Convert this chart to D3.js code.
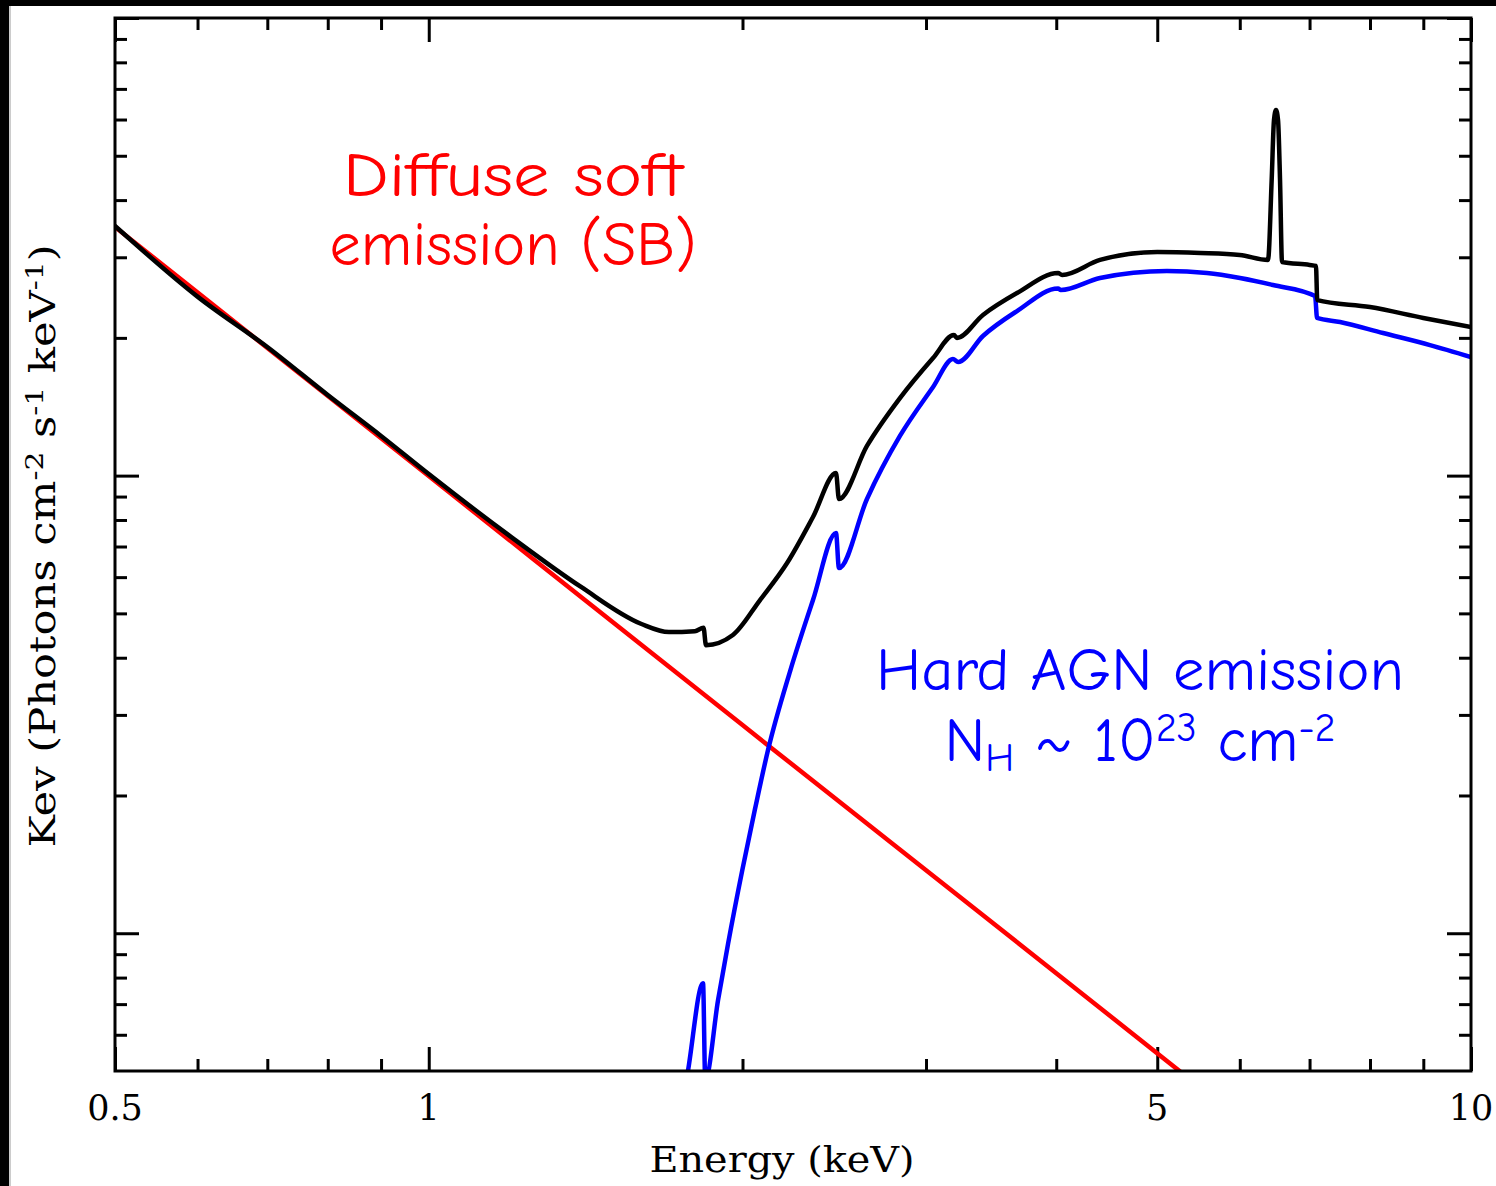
<!DOCTYPE html>
<html>
<head>
<meta charset="utf-8">
<script src="https://cdn.jsdelivr.net/npm/d3@7"></script>
<style>
html,body{margin:0;padding:0;background:#fff;}
svg{display:block;}
</style>
</head>
<body>
<svg id="chart" width="1496" height="1186"></svg>
<script>
// ---- data (energy in keV, E*F(E) in arbitrary units) ----
const softE   = [0.5, 1.0, 2.0, 4.0, 6.0];
const softV   = [0.3495, 0.0998, 0.0285, 0.00818, 0.00393];

const agnE = [1.742, 1.773, 1.833, 1.842, 1.895, 1.937, 2.0, 2.056, 2.116, 2.222, 2.337, 2.459, 2.475,
              2.633, 2.832, 3.047, 3.184, 3.220, 3.402, 3.668, 4.016, 4.04, 4.406, 5.108, 5.581,
              6.003, 6.457, 7.086, 7.117, 7.488, 8.234, 9.133, 10.0];
const agnV = [0.00395, 0.0050, 0.00778, 0.00478, 0.00715, 0.00947, 0.01381, 0.01868, 0.02514, 0.03741, 0.05347, 0.07492, 0.0628,
              0.0889, 0.1221, 0.1562, 0.1798, 0.1771, 0.2019, 0.2289, 0.2564, 0.2544, 0.2702, 0.2799, 0.2771,
              0.2702, 0.2609, 0.2468, 0.2211, 0.2167, 0.2049, 0.1929, 0.1816];

const totE = [0.5, 0.6, 0.7, 0.8, 0.9, 1.0, 1.2, 1.4, 1.6, 1.7, 1.8, 1.835, 1.845, 1.958, 2.079, 2.207, 2.337, 2.459, 2.475,
              2.633, 2.832, 3.047, 3.191, 3.212, 3.402, 3.668, 4.016, 4.052, 4.406, 5.0, 5.5, 6.0,
              6.386, 6.438, 6.471, 6.50, 6.529, 6.558, 6.587, 7.0, 7.10, 7.12, 8.0, 9.0, 10.0];
const totV = [0.3512, 0.2461, 0.1910, 0.1500, 0.1221, 0.1008, 0.0734, 0.0571, 0.0474, 0.0455, 0.0457, 0.0465, 0.0426, 0.04484, 0.05347, 0.06442, 0.0812, 0.1013, 0.0889,
              0.1161, 0.1477, 0.1807, 0.2029, 0.1999, 0.2244, 0.2506, 0.2771, 0.2744, 0.2960, 0.3081, 0.3066, 0.3035,
              0.2960, 0.4426, 0.5986, 0.6295, 0.5986, 0.4426, 0.2930, 0.2886, 0.2871, 0.2418, 0.2335, 0.2211, 0.2112];

const xMajor = [0.5, 1, 5, 10];
const xMajorLabels = ["0.5", "1", "5", "10"];
const xMinor = [0.6, 0.7, 0.8, 0.9, 2, 3, 4, 6, 7, 8, 9];
const yMajor = [0.01, 0.1, 1];
const yMinor = [0.006, 0.007, 0.008, 0.009, 0.02, 0.03, 0.04, 0.05, 0.06, 0.07, 0.08, 0.09,
                0.2, 0.3, 0.4, 0.5, 0.6, 0.7, 0.8, 0.9];

// ---- layout ----
const L = 115, R = 1471, T = 18, B = 1071;
const svg = d3.select("#chart");

const x = d3.scaleLog().domain([0.5, 10]).range([L, R]);
const y = d3.scaleLog().domain([0.005, 1]).range([B, T]);

// outer frame (black bars top and left)
svg.append("rect").attr("x", 0).attr("y", 0).attr("width", 1496).attr("height", 6).attr("fill", "#000");
svg.append("rect").attr("x", 0).attr("y", 0).attr("width", 9).attr("height", 1186).attr("fill", "#000");
svg.append("line").attr("x1", 10).attr("x2", 10).attr("y1", 6).attr("y2", 1186).attr("stroke", "#999").attr("stroke-width", 1);

svg.append("clipPath").attr("id", "plotclip")
  .append("rect").attr("x", L).attr("y", T).attr("width", R - L).attr("height", B - T);

// ticks
function tickAxis(axis, tx, ty, vals, size) {
  const g = svg.append("g").attr("transform", `translate(${tx},${ty})`)
    .call(axis.tickValues(vals).tickSizeInner(-size).tickSizeOuter(0).tickFormat(""));
  g.select(".domain").remove();
  g.selectAll("line").attr("stroke", "#000").attr("stroke-width", 3);
}
tickAxis(d3.axisBottom(x), 0, B, xMinor, 12);
tickAxis(d3.axisBottom(x), 0, B, xMajor, 24);
tickAxis(d3.axisTop(x), 0, T, xMinor, 12);
tickAxis(d3.axisTop(x), 0, T, xMajor, 24);
tickAxis(d3.axisLeft(y), L, 0, yMinor, 12);
tickAxis(d3.axisLeft(y), L, 0, yMajor, 24);
tickAxis(d3.axisRight(y), R, 0, yMinor, 12);
tickAxis(d3.axisRight(y), R, 0, yMajor, 24);

// curves
const plot = svg.append("g").attr("clip-path", "url(#plotclip)");
function curve(E, V, color) {
  const pts = E.map((e, i) => [e, V[i]]);
  plot.append("path")
    .attr("d", d3.line().x(d => x(d[0])).y(d => y(d[1])).curve(d3.curveMonotoneX)(pts))
    .attr("fill", "none").attr("stroke", color).attr("stroke-width", 4.5)
    .attr("stroke-linejoin", "round").attr("stroke-linecap", "round");
}
curve(softE, softV, "#ff0000");
curve(agnE, agnV, "#0000ff");
curve(totE, totV, "#000000");

// frame
svg.append("rect").attr("x", L).attr("y", T).attr("width", R - L).attr("height", B - T)
  .attr("fill", "none").attr("stroke", "#000").attr("stroke-width", 3);

// tick labels
const serif = "'DejaVu Serif', 'Liberation Serif', serif";
svg.append("g").selectAll("text").data(xMajor).join("text")
  .attr("x", d => x(d)).attr("y", 1120)
  .attr("text-anchor", "middle")
  .attr("font-family", serif).attr("font-size", 35).attr("fill", "#000")
  .text((d, i) => xMajorLabels[i]);

// axis titles
svg.append("text").attr("x", 782).attr("y", 1172).attr("text-anchor", "middle")
  .attr("font-family", serif).attr("font-size", 35)
  .attr("textLength", 265).attr("lengthAdjust", "spacingAndGlyphs")
  .text("Energy (keV)");

const yl = svg.append("text").attr("transform", "translate(55,546) rotate(-90)")
  .attr("text-anchor", "middle")
  .attr("font-family", serif).attr("font-size", 35)
  .attr("textLength", 603).attr("lengthAdjust", "spacingAndGlyphs");
yl.append("tspan").text("Kev (Photons cm");
yl.append("tspan").attr("dy", -12).attr("font-size", 24).text("-2");
yl.append("tspan").attr("dy", 12).text(" s");
yl.append("tspan").attr("dy", -12).attr("font-size", 24).text("-1");
yl.append("tspan").attr("dy", 12).text(" keV");
yl.append("tspan").attr("dy", -12).attr("font-size", 24).text("-1");
yl.append("tspan").attr("dy", 12).text(")");

// annotations
const comic = "'Comic Sans MS', 'Comic Neue', 'Lato', 'Open Sans', sans-serif";
svg.append("text").attr("x", 513).attr("y", 196).attr("text-anchor", "middle")
  .attr("font-family", comic).attr("font-size", 62).attr("fill", "#ff0000")
  .attr("textLength", 340).attr("lengthAdjust", "spacingAndGlyphs").text("Diffuse soft");
svg.append("text").attr("x", 513).attr("y", 265).attr("text-anchor", "middle")
  .attr("font-family", comic).attr("font-size", 62).attr("fill", "#ff0000")
  .attr("textLength", 367).attr("lengthAdjust", "spacingAndGlyphs").text("emission (SB)");

svg.append("text").attr("x", 1140).attr("y", 690).attr("text-anchor", "middle")
  .attr("font-family", comic).attr("font-size", 60).attr("fill", "#0000ff")
  .attr("textLength", 528).attr("lengthAdjust", "spacingAndGlyphs").text("Hard AGN emission");

const nh = svg.append("text").attr("x", 1140).attr("y", 761).attr("text-anchor", "middle")
  .attr("font-family", comic).attr("font-size", 62).attr("fill", "#0000ff")
  .attr("textLength", 391).attr("lengthAdjust", "spacingAndGlyphs");
nh.append("tspan").text("N");
nh.append("tspan").attr("dy", 10).attr("font-size", 40).text("H");
nh.append("tspan").attr("dy", -10).text(" ~ 10");
nh.append("tspan").attr("dy", -20).attr("font-size", 40).text("23");
nh.append("tspan").attr("dy", 20).text(" cm");
nh.append("tspan").attr("dy", -20).attr("font-size", 40).text("-2");
</script>
</body>
</html>
